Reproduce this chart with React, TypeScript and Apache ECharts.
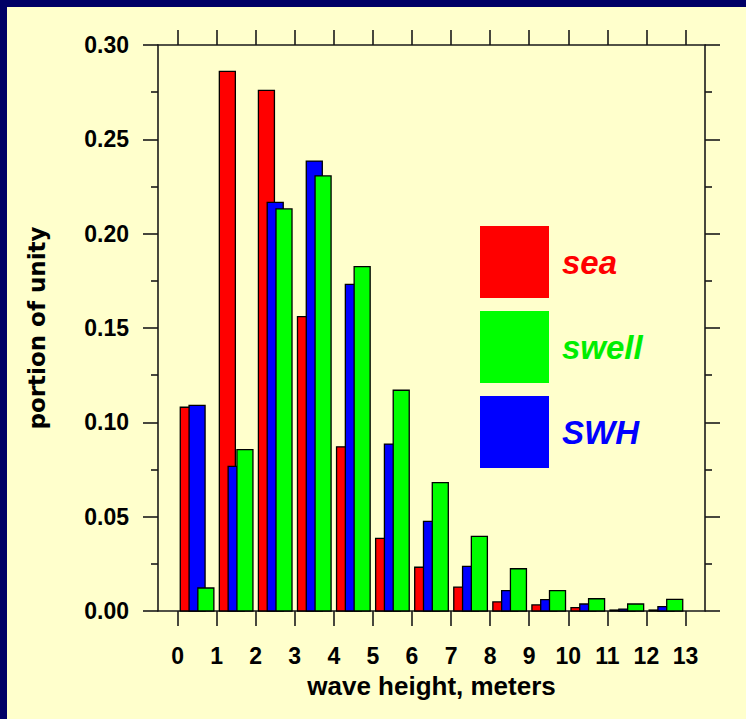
import React, { useEffect, useRef } from "react";
import * as echarts from "echarts";

// Wave-height bins (meters) and the share of observations in each bin
const bins = [0, 1, 2, 3, 4, 5, 6, 7, 8, 9, 10, 11, 12];
const xTickValues = [0, 1, 2, 3, 4, 5, 6, 7, 8, 9, 10, 11, 12, 13];
const sea = [0.108, 0.286, 0.276, 0.156, 0.087, 0.0385, 0.0232, 0.0127, 0.0048, 0.0032, 0.0018, 0.0005, 0.0005];
const swh = [0.109, 0.0767, 0.2166, 0.2385, 0.1731, 0.0885, 0.0475, 0.0237, 0.0108, 0.006, 0.0037, 0.001, 0.0023];
const swell = [0.0122, 0.0855, 0.2131, 0.2306, 0.1825, 0.117, 0.068, 0.0396, 0.0224, 0.0108, 0.0065, 0.0037, 0.0062];
const seriesNames = ["sea", "swell", "SWH"];

const AXIS_COLOR = "#1a1a1a";
const LABEL_FONT = "'Liberation Sans', Arial, Helvetica, sans-serif";
const BAR_HALF = 0.205; // half bar width in axis units

function barSeries(name: string, values: number[], color: string, center: number, z: number) {
  return {
    type: "custom",
    name,
    z,
    xAxisIndex: 0,
    yAxisIndex: 0,
    data: bins.map((b, i) => [b, values[i]]),
    encode: { x: 0, y: 1 },
    itemStyle: { color },
    renderItem: (_params: any, api: any) => {
      const x = api.value(0) as number;
      const v = api.value(1) as number;
      const p0 = api.coord([x + center - BAR_HALF, v]);
      const p1 = api.coord([x + center + BAR_HALF, 0]);
      return {
        type: "rect",
        shape: { x: p0[0], y: p0[1], width: p1[0] - p0[0], height: p1[1] - p0[1] },
        style: { fill: color, stroke: "#000", lineWidth: 1.3 },
      };
    },
  };
}

export default function App() {
  const ref = useRef<HTMLDivElement>(null);

  useEffect(() => {
    document.body.style.margin = "0";
    if (!ref.current) return;
    const chart = echarts.init(ref.current, null, { renderer: "svg" });

    const axisLine = { show: true, onZero: false, lineStyle: { color: AXIS_COLOR, width: 1.6 } };
    const tickStyle = { color: AXIS_COLOR, width: 1.6 };

    chart.setOption({
      animation: false,
      backgroundColor: "#FFFFCC",
      grid: { left: 158, right: 41, top: 45, bottom: 108, containLabel: false },
      legend: {
        orient: "vertical",
        left: 480,
        top: 226,
        padding: 0,
        itemWidth: 69,
        itemHeight: 72,
        itemGap: 13,
        icon: "rect",
        selectedMode: false,
        itemStyle: { borderWidth: 0 },
        textStyle: {
          fontFamily: LABEL_FONT,
          fontSize: 33,
          fontWeight: "bold",
          fontStyle: "italic",
          padding: [0, 0, 0, 8],
        },
        data: [
          { name: seriesNames[0], textStyle: { color: "#ff0000" } },
          { name: seriesNames[1], textStyle: { color: "#00ee00" } },
          { name: seriesNames[2], textStyle: { color: "#0000ff" } },
        ],
      },
      xAxis: [
        {
          type: "value",
          position: "bottom",
          min: -0.5,
          max: 13.5,
          axisLine,
          axisTick: { show: true, length: 15, customValues: xTickValues, lineStyle: tickStyle },
          axisLabel: {
            customValues: xTickValues,
            margin: 33,
            color: "#000",
            fontFamily: LABEL_FONT,
            fontSize: 23,
            fontWeight: "bold",
          },
          splitLine: { show: false },
          name: "wave height, meters",
          nameLocation: "middle",
          nameGap: 62,
          nameTextStyle: { color: "#000", fontFamily: LABEL_FONT, fontSize: 26, fontWeight: "bold" },
        },
        {
          type: "value",
          position: "top",
          min: -0.5,
          max: 13.5,
          axisLine,
          axisTick: { show: true, length: 15, customValues: xTickValues, lineStyle: tickStyle },
          axisLabel: { show: false },
          splitLine: { show: false },
        },
      ],
      yAxis: [
        {
          type: "value",
          position: "left",
          min: 0,
          max: 0.3,
          interval: 0.05,
          axisLine,
          axisTick: { show: true, length: 15, lineStyle: tickStyle },
          minorTick: { show: true, splitNumber: 2, length: 7, lineStyle: tickStyle },
          axisLabel: {
            margin: 29,
            color: "#000",
            fontFamily: LABEL_FONT,
            fontSize: 23,
            fontWeight: "bold",
            formatter: (v: number) => v.toFixed(2),
          },
          splitLine: { show: false },
          minorSplitLine: { show: false },
          name: "portion of unity",
          nameLocation: "middle",
          nameRotate: 90,
          nameGap: 110,
          nameTextStyle: { color: "#000", fontFamily: "'DejaVu Sans', Verdana, sans-serif", fontSize: 23, fontWeight: "bold" },
        },
        {
          type: "value",
          position: "right",
          min: 0,
          max: 0.3,
          interval: 0.05,
          axisLine,
          axisTick: { show: true, length: 15, lineStyle: tickStyle },
          minorTick: { show: true, splitNumber: 2, length: 7, lineStyle: tickStyle },
          axisLabel: { show: false },
          splitLine: { show: false },
          minorSplitLine: { show: false },
        },
      ],
      graphic: [
        { type: "rect", left: 0, top: 0, z: -10, shape: { width: 746, height: 7 }, style: { fill: "#000066" } },
        { type: "rect", left: 0, top: 0, z: -10, shape: { width: 7, height: 719 }, style: { fill: "#000066" } },
      ],
      series: [
        barSeries(seriesNames[0], sea, "#ff0000", 0.275, 2),
        barSeries(seriesNames[2], swh, "#0000ff", 0.5, 3),
        barSeries(seriesNames[1], swell, "#00ff00", 0.725, 4),
      ],
    });

    return () => chart.dispose();
  }, []);

  return <div ref={ref} style={{ width: 746, height: 719 }} />;
}
